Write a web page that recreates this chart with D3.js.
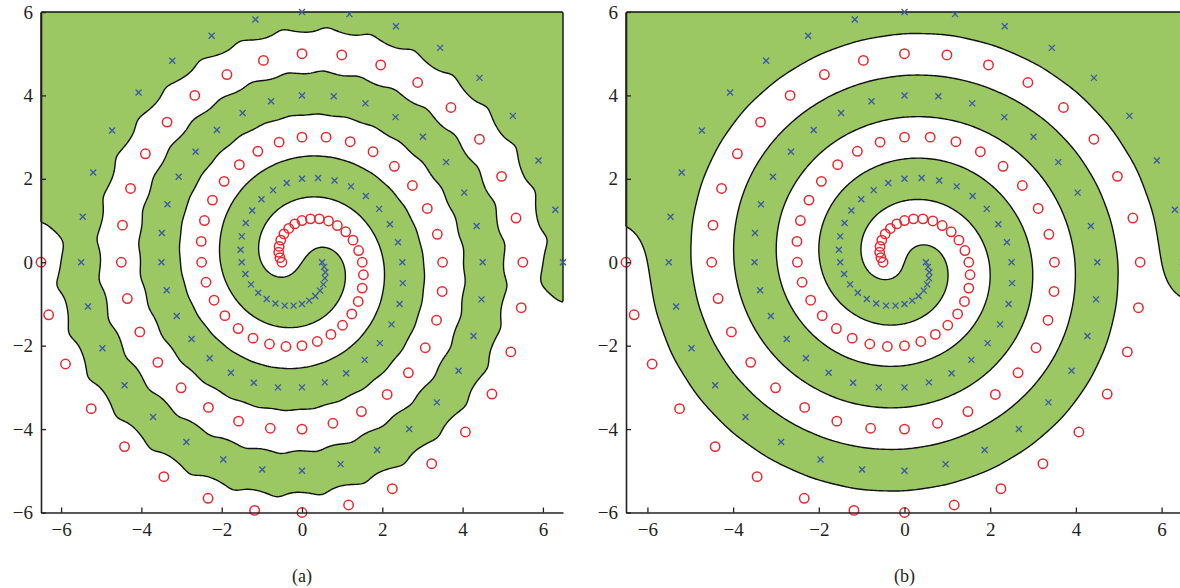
<!DOCTYPE html>
<html>
<head>
<meta charset="utf-8">
<script src="https://cdn.jsdelivr.net/npm/d3@7"></script>
<style>
body { margin: 0; background: #fff; }
svg { display: block; }
</style>
</head>
<body>
<svg width="1180" height="588"></svg>
<script>
// class 1 spiral (blue crosses)
var blueSpiral = [
  [6.50, 0.00], [6.31, 1.26], [5.89, 2.44], [5.25, 3.51], [4.42, 4.42], [3.44, 5.14], [2.34, 5.66], [1.18, 5.95],
  [0.00, 6.00], [-1.16, 5.82], [-2.25, 5.43], [-3.23, 4.83], [-4.07, 4.07], [-4.73, 3.16], [-5.20, 2.15], [-5.46, 1.09],
  [-5.50, 0.00], [-5.33, -1.06], [-4.97, -2.06], [-4.42, -2.95], [-3.71, -3.71], [-2.88, -4.31], [-1.96, -4.73], [-0.99, -4.97],
  [0.00, -5.00], [0.96, -4.84], [1.87, -4.50], [2.67, -4.00], [3.36, -3.36], [3.90, -2.60], [4.27, -1.77], [4.47, -0.89],
  [4.50, 0.00], [4.35, 0.87], [4.04, 1.67], [3.59, 2.40], [3.01, 3.01], [2.33, 3.48], [1.58, 3.81], [0.79, 3.98],
  [0.00, 4.00], [-0.77, 3.86], [-1.48, 3.58], [-2.12, 3.17], [-2.65, 2.65], [-3.07, 2.05], [-3.35, 1.39], [-3.49, 0.70],
  [-3.50, 0.00], [-3.37, -0.67], [-3.12, -1.29], [-2.75, -1.84], [-2.30, -2.30], [-1.77, -2.65], [-1.20, -2.89], [-0.60, -3.00],
  [0.00, -3.00], [0.57, -2.88], [1.10, -2.66], [1.56, -2.34], [1.94, -1.94], [2.23, -1.49], [2.43, -1.00], [2.51, -0.50],
  [2.50, 0.00], [2.39, 0.48], [2.19, 0.91], [1.92, 1.28], [1.59, 1.59], [1.22, 1.82], [0.81, 1.96], [0.40, 2.02],
  [0.00, 2.00], [-0.38, 1.90], [-0.72, 1.73], [-1.01, 1.51], [-1.24, 1.24], [-1.40, 0.94], [-1.50, 0.62], [-1.53, 0.30],
  [-1.50, 0.00], [-1.41, -0.28], [-1.27, -0.53], [-1.09, -0.73], [-0.88, -0.88], [-0.66, -0.99], [-0.43, -1.04], [-0.21, -1.04],
  [0.00, -1.00], [0.18, -0.92], [0.33, -0.81], [0.45, -0.68], [0.53, -0.53], [0.57, -0.38], [0.58, -0.24], [0.55, -0.11],
  [0.50, 0.00]
];
// class 2 spiral (red circles)
var redSpiral = [
  [-6.50, 0.00], [-6.31, -1.26], [-5.89, -2.44], [-5.25, -3.51], [-4.42, -4.42], [-3.44, -5.14], [-2.34, -5.66], [-1.18, -5.95],
  [0.00, -6.00], [1.16, -5.82], [2.25, -5.43], [3.23, -4.83], [4.07, -4.07], [4.73, -3.16], [5.20, -2.15], [5.46, -1.09],
  [5.50, 0.00], [5.33, 1.06], [4.97, 2.06], [4.42, 2.95], [3.71, 3.71], [2.88, 4.31], [1.96, 4.73], [0.99, 4.97],
  [0.00, 5.00], [-0.96, 4.84], [-1.87, 4.50], [-2.67, 4.00], [-3.36, 3.36], [-3.90, 2.60], [-4.27, 1.77], [-4.47, 0.89],
  [-4.50, 0.00], [-4.35, -0.87], [-4.04, -1.67], [-3.59, -2.40], [-3.01, -3.01], [-2.33, -3.48], [-1.58, -3.81], [-0.79, -3.98],
  [0.00, -4.00], [0.77, -3.86], [1.48, -3.58], [2.12, -3.17], [2.65, -2.65], [3.07, -2.05], [3.35, -1.39], [3.49, -0.70],
  [3.50, 0.00], [3.37, 0.67], [3.12, 1.29], [2.75, 1.84], [2.30, 2.30], [1.77, 2.65], [1.20, 2.89], [0.60, 3.00],
  [0.00, 3.00], [-0.57, 2.88], [-1.10, 2.66], [-1.56, 2.34], [-1.94, 1.94], [-2.23, 1.49], [-2.43, 1.00], [-2.51, 0.50],
  [-2.50, 0.00], [-2.39, -0.48], [-2.19, -0.91], [-1.92, -1.28], [-1.59, -1.59], [-1.22, -1.82], [-0.81, -1.96], [-0.40, -2.02],
  [0.00, -2.00], [0.38, -1.90], [0.72, -1.73], [1.01, -1.51], [1.24, -1.24], [1.40, -0.94], [1.50, -0.62], [1.53, -0.30],
  [1.50, 0.00], [1.41, 0.28], [1.27, 0.53], [1.09, 0.73], [0.88, 0.88], [0.66, 0.99], [0.43, 1.04], [0.21, 1.04],
  [0.00, 1.00], [-0.18, 0.92], [-0.33, 0.81], [-0.45, 0.68], [-0.53, 0.53], [-0.57, 0.38], [-0.58, 0.24], [-0.55, 0.11],
  [-0.50, 0.00]
];
var xTicks = [-6, -4, -2, 0, 2, 4, 6];
var yTicks = [-6, -4, -2, 0, 2, 4, 6];
var xDomain = [-6.5, 6.5];
var yDomain = [-6, 6];
var panelNames = ["(a)", "(b)"];

var green = "#9cc864", red = "#e8282e", blue = "#3c55a5";
var svg = d3.select("svg");

// distance from a point to nearest data point, softened
function softPointDist(px, py, pts, tau) {
  var ds = pts.map(function(p) { return Math.hypot(px - p[0], py - p[1]); });
  var m = d3.min(ds), s = 0;
  ds.forEach(function(d) { s += Math.exp(-(d - m) / tau); });
  return m - tau * Math.log(s);
}

// distance from a point to the polyline through the data points
function curveDist(px, py, pts) {
  var best = Infinity;
  for (var k = 0; k < pts.length - 1; k++) {
    var ax = pts[k][0], ay = pts[k][1], bx = pts[k + 1][0], by = pts[k + 1][1];
    var vx = bx - ax, vy = by - ay;
    var t = ((px - ax) * vx + (py - ay) * vy) / (vx * vx + vy * vy);
    t = Math.max(0, Math.min(1, t));
    var d = Math.hypot(px - ax - t * vx, py - ay - t * vy);
    if (d < best) best = d;
  }
  return best;
}

// box blur on the grid, a few passes
function blur(values, w, h, r, passes) {
  var a = values.slice(), b = new Array(w * h);
  for (var n = 0; n < passes; n++) {
    for (var j = 0; j < h; j++) for (var i = 0; i < w; i++) {
      var s = 0, c = 0;
      for (var k = -r; k <= r; k++) { var ii = Math.min(w - 1, Math.max(0, i + k)); s += a[j * w + ii]; c++; }
      b[j * w + i] = s / c;
    }
    for (var j2 = 0; j2 < h; j2++) for (var i2 = 0; i2 < w; i2++) {
      var s2 = 0, c2 = 0;
      for (var k2 = -r; k2 <= r; k2++) { var jj = Math.min(h - 1, Math.max(0, j2 + k2)); s2 += b[jj * w + i2]; c2++; }
      a[j2 * w + i2] = s2 / c2;
    }
  }
  return a;
}

function smoothField(x, y) {
  return curveDist(x, y, redSpiral) - curveDist(x, y, blueSpiral);
}

var panels = [
  // (a): boundary pulled toward the individual samples, so it wobbles
  {name: panelNames[0], left: 41, right: 563, blurR: 4, field: function(x, y) {
    var base = smoothField(x, y);
    var pts = softPointDist(x, y, redSpiral, 0.1) - softPointDist(x, y, blueSpiral, 0.1);
    return base + 2 * (pts - base);
  }},
  {name: panelNames[1], left: 626, right: 1183, blurR: 6, field: smoothField}
];

var plotTop = 12, plotBottom = 512.5;
var nx = 260, ny = 240;

panels.forEach(function(p) {
  var xs = d3.scaleLinear().domain(xDomain).range([p.left, p.right]);
  var ys = d3.scaleLinear().domain(yDomain).range([plotBottom, plotTop]);
  var g = svg.append("g");

  // decision field on a grid
  var values = new Array(nx * ny);
  var stepX = (xDomain[1] - xDomain[0]) / nx, stepY = (yDomain[1] - yDomain[0]) / ny;
  for (var j = 0; j < ny; j++) {
    for (var i = 0; i < nx; i++) {
      var x = xDomain[0] + (i + 0.5) * stepX;
      var y = yDomain[1] - (j + 0.5) * stepY;
      values[j * nx + i] = p.field(x, y);
    }
  }
  values = blur(values, nx, ny, p.blurR, 2);
  var contours = d3.contours().size([nx, ny]).thresholds([0])(values);
  var proj = d3.geoTransform({
    point: function(u, v) {
      this.stream.point(xs(xDomain[0] + u * stepX), ys(yDomain[1] - v * stepY));
    }
  });
  g.selectAll("path.region")
    .data(contours)
    .enter().append("path")
    .attr("class", "region")
    .attr("d", d3.geoPath(proj))
    .style("fill", green)
    .style("stroke", "#111")
    .style("stroke-width", 1.4)
    .style("stroke-linejoin", "round");

  g.selectAll("circle")
    .data(redSpiral)
    .enter().append("circle")
    .attr("cx", function(d) { return xs(d[0]); })
    .attr("cy", function(d) { return ys(d[1]); })
    .attr("r", 4.7)
    .style("fill", "none")
    .style("stroke", red)
    .style("stroke-width", 1.5);

  g.selectAll("path.cross")
    .data(blueSpiral)
    .enter().append("path")
    .attr("class", "cross")
    .attr("transform", function(d) { return "translate(" + xs(d[0]) + "," + ys(d[1]) + ")"; })
    .attr("d", "M-3,-3L3,3M-3,3L3,-3")
    .style("stroke", blue)
    .style("stroke-width", 1.3);

  var xAxis = g.append("g")
    .attr("transform", "translate(0," + plotBottom + ")")
    .call(d3.axisBottom(xs).tickValues(xTicks).tickSizeInner(-5).tickSizeOuter(0).tickPadding(10));
  var yAxis = g.append("g")
    .attr("transform", "translate(" + p.left + ",0)")
    .call(d3.axisLeft(ys).tickValues(yTicks).tickSizeInner(-5).tickSizeOuter(0).tickPadding(8));
  [xAxis, yAxis].forEach(function(a) {
    a.selectAll("path.domain").style("stroke", "#231f20").style("stroke-width", 1.6);
    a.selectAll("line").style("stroke", "#231f20").style("stroke-width", 1.3);
    a.selectAll("text")
      .style("font-family", "'Liberation Serif', 'DejaVu Serif', serif")
      .style("font-size", "19px")
      .style("fill", "#231f20");
  });

  g.append("text")
    .attr("x", xs(0))
    .attr("y", 582)
    .attr("text-anchor", "middle")
    .style("font-family", "'Liberation Serif', 'DejaVu Serif', serif")
    .style("font-size", "18px")
    .style("fill", "#231f20")
    .text(p.name);
});
</script>
</body>
</html>
